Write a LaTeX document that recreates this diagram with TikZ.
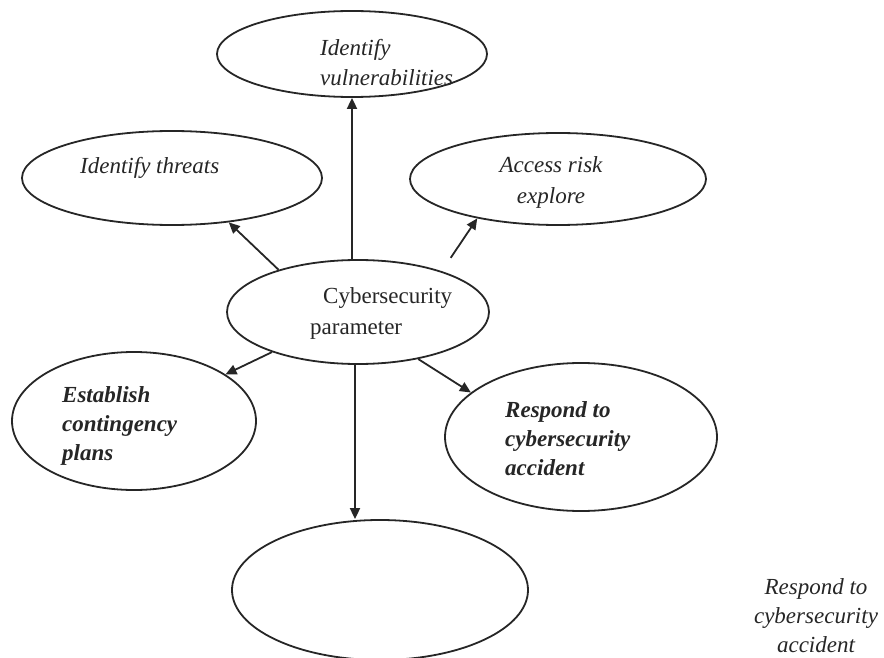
\documentclass[tikz,border=0pt]{standalone}
\usepackage{fontspec}
\setmainfont{Liberation Serif}
\usetikzlibrary{shapes.geometric,arrows.meta}
\begin{document}
\begin{tikzpicture}[x=1pt,y=-1pt,
  oval/.style={draw=black!85,line width=1.8pt,ellipse,inner sep=0pt,fill=white},
  lbl/.style={inner sep=0pt,font=\fontsize{23}{29}\selectfont,text=black!85},
  arr/.style={draw=black!85,line width=1.8pt,-{Triangle[length=11pt,width=10pt]}}]
\clip (0,0) rectangle (884,658);
\useasboundingbox (0,0) rectangle (884,658);
% ellipses
\node[oval,minimum width=270pt,minimum height=86pt] (T) at (352,54) {};
\node[oval,minimum width=300pt,minimum height=94pt] (TH) at (172,178) {};
\node[oval,minimum width=296pt,minimum height=92pt] (AR) at (558,179) {};
\node[oval,minimum width=262pt,minimum height=104pt] (C) at (358,312) {};
\node[oval,minimum width=244pt,minimum height=138pt] (E) at (134,421) {};
\node[oval,minimum width=272pt,minimum height=148pt] (R) at (581,437) {};
\node[oval,minimum width=296pt,minimum height=140pt] (B) at (380,590) {};
% labels
\node[lbl,anchor=west,align=left,font=\fontsize{23}{30}\selectfont\itshape] (tT) at (320,63) {Identify\\vulnerabilities};
\node[lbl,anchor=west,font=\fontsize{23}{29}\selectfont\itshape] (tTH) at (80,168) {Identify threats};
\node[lbl,align=center,font=\fontsize{23}{31}\selectfont\itshape] (tAR) at (551,182) {Access risk\\explore};
\node[lbl,anchor=west,align=left] (tC1) at (323,298) {Cybersecurity};
\node[lbl,anchor=west,align=left] (tC2) at (310,330) {parameter};
\node[lbl,anchor=west,align=left,font=\fontsize{23}{29}\selectfont\bfseries\itshape] (tE) at (62,426) {Establish\\contingency\\plans};
\node[lbl,anchor=west,align=left,font=\fontsize{23}{29}\selectfont\bfseries\itshape] (tR) at (505,439) {Respond to\\cybersecurity\\accident};
\node[lbl,align=center,font=\fontsize{23}{29}\selectfont\itshape] (tX) at (816,616) {Respond to\\cybersecurity\\accident};
% connectors
\draw[arr] (T.south |- C.north) -- (T.south);
\draw[arr] (C.152.4) -- (TH.322.5);
\draw[arr,shorten <=16pt] (C.26) -- (AR.206);
\draw[arr] (C.205.5) -- (E.27.6);
\draw[arr] (C.322.5) -- (R.158.9);
\draw[arr] ([xshift=-3pt]C.south) -- ([xshift=-3pt]C.south |- B.north);
\end{tikzpicture}
\end{document}
